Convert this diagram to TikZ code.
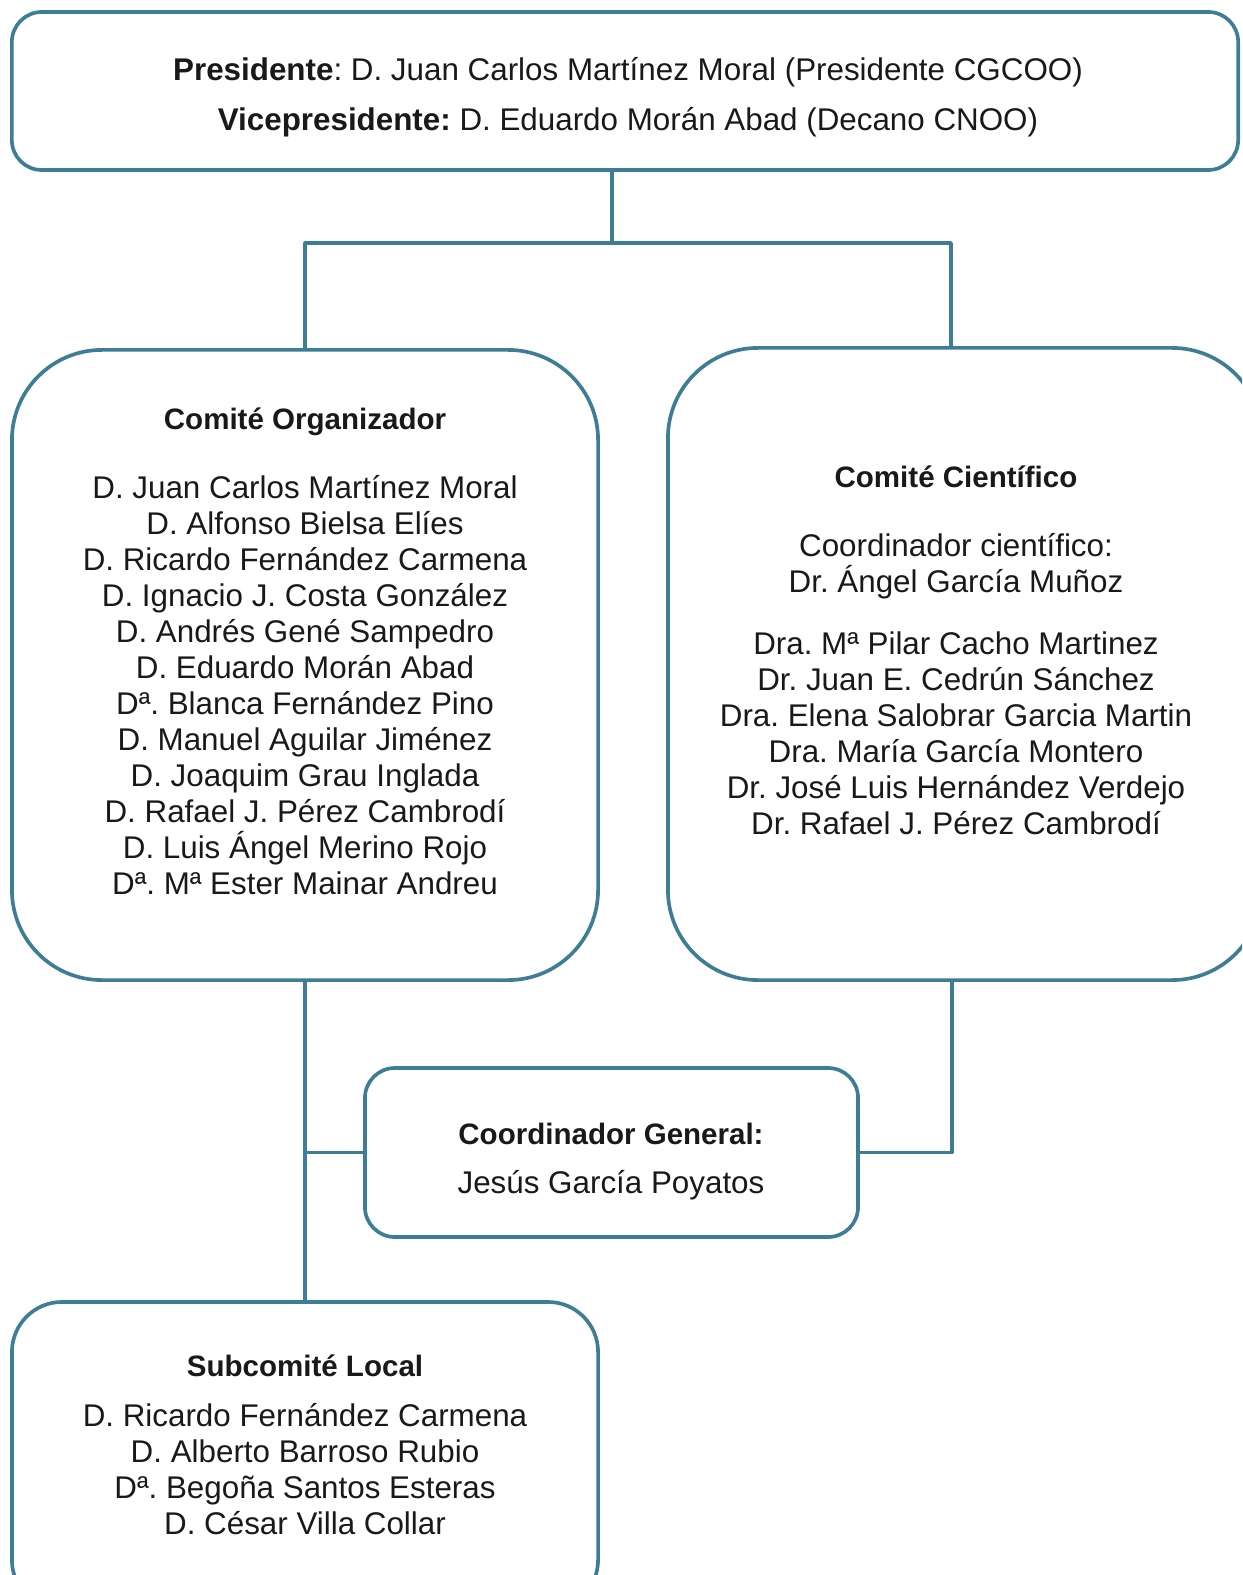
\documentclass[tikz,border=0pt]{standalone}
\usepackage{fontspec}
\setmainfont{Liberation Sans}
\frenchspacing
\definecolor{frame}{RGB}{62,125,150}
\definecolor{ink}{RGB}{25,25,25}
\tikzset{
  box/.style={draw=frame, line width=2.6pt, fill=white, inner sep=0pt, rounded corners=#1},
  link/.style={draw=frame, line width=2.6pt},
  head/.style={font=\fontsize{21}{25}\selectfont\bfseries, text=ink, inner sep=0pt},
  names/.style={font=\fontsize{22.3}{25.6}\selectfont, align=center, text=ink, inner sep=0pt},
}
\begin{document}
\begin{tikzpicture}[x=0.025cm, y=-0.025cm, line join=round]
 \useasboundingbox (0,0) rectangle (1242,1575);
 \clip (0,0) rectangle (1242,1575);
 % boxes
 \node[box=0.75cm, minimum width=30.65cm, minimum height=3.95cm] (top) at (625,91) {};
 \node[box=2.25cm, minimum width=14.65cm, minimum height=15.75cm] (org) at (305,665) {};
 \node[box=2.25cm, minimum width=14.85cm, minimum height=15.8cm] (sci) at (965,664) {};
 \node[box=0.75cm, minimum width=12.325cm, minimum height=4.225cm] (coord) at (611.5,1152.5) {};
 \node[box=1.25cm, minimum width=14.65cm, minimum height=7.7cm] (sub) at (305,1456) {};
 % connectors
 \coordinate (hub) at (612,243);
 \draw[link] (top.south -| hub) -- (hub);
 \draw[link] (org.north) |- (hub) -| ([xshift=-0.35cm]sci.north);
 \draw[link] (org.south) -- (sub.north);
 \draw[link] (org.south |- coord.west) -- (coord.west);
 \draw[link] ([xshift=-0.33cm]sci.south) |- (coord.east);
 % texts
 \node[names, font=\fontsize{22.3}{35.6}\selectfont] (toptxt) at (628,97)
   {\textbf{Presidente}: D. Juan Carlos Martínez Moral (Presidente CGCOO)\\
    \textbf{Vicepresidente:} D. Eduardo Morán Abad (Decano CNOO)};
 \node[head] (orghead) at (305,422) {Comité Organizador};
 \node[names] (orglist) at (305,685.5)
   {D. Juan Carlos Martínez Moral\\ D. Alfonso Bielsa Elíes\\ D. Ricardo Fernández Carmena\\
    D. Ignacio J. Costa González\\ D. Andrés Gené Sampedro\\ D. Eduardo Morán Abad\\
    Dª. Blanca Fernández Pino\\ D. Manuel Aguilar Jiménez\\ D. Joaquim Grau Inglada\\
    D. Rafael J. Pérez Cambrodí\\ D. Luis Ángel Merino Rojo\\ Dª. Mª Ester Mainar Andreu};
 \node[head] (scihead) at (956,477) {Comité Científico};
 \node[names] (scicoord) at (956,566) {Coordinador científico:\\ Dr. Ángel García Muñoz};
 \node[names] (scilist) at (956,733)
   {Dra. Mª Pilar Cacho Martinez\\ Dr. Juan E. Cedrún Sánchez\\ Dra. Elena Salobrar Garcia Martin\\
    Dra. María García Montero\\ Dr. José Luis Hernández Verdejo\\ Dr. Rafael J. Pérez Cambrodí};
 \node[head] (coordhead) at (611,1134) {Coordinador General:};
 \node[names] (coordname) at (611,1185) {Jesús García Poyatos};
 \node[head] (subhead) at (305,1366) {Subcomité Local};
 \node[names] (sublist) at (305,1469)
   {D. Ricardo Fernández Carmena\\ D. Alberto Barroso Rubio\\ Dª. Begoña Santos Esteras\\ D. César Villa Collar};
\end{tikzpicture}
\end{document}
